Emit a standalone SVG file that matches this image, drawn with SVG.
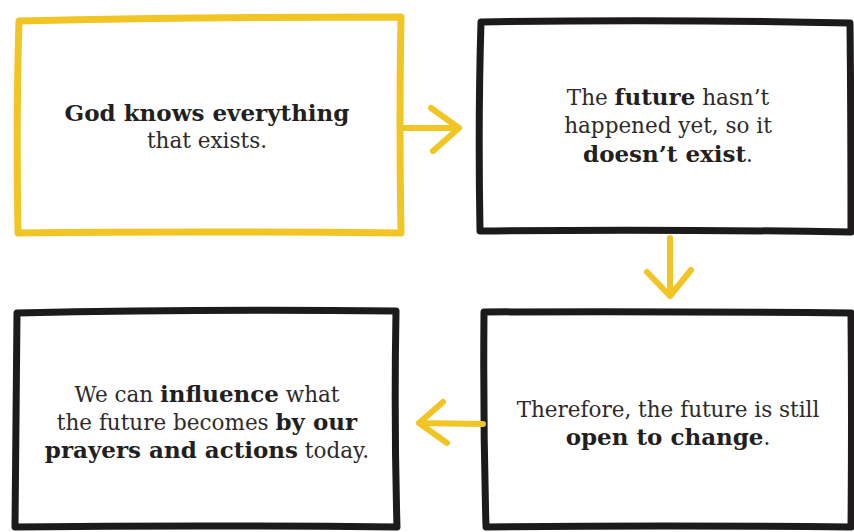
<svg xmlns="http://www.w3.org/2000/svg" width="854" height="532" viewBox="0 0 854 532">
<style>
.bx{fill:#fff;stroke-width:7;stroke-linejoin:round;stroke-linecap:round}
.blk{stroke:#1c1a1a}
.yel{stroke:#f1c524}
.ar{fill:none;stroke:#f1c524;stroke-width:6;stroke-linecap:round;stroke-linejoin:round}
text{font-family:"DejaVu Serif","Liberation Serif",serif;font-size:21.5px;fill:#2e2a2b;text-anchor:middle}
.b{font-weight:bold;font-size:23px;fill:#231f20}
</style>
<rect width="854" height="532" fill="#fff"/>
<g id="node-god">
<path class="bx yel" d="M19,21 Q200,17 401,17 Q399,120 401,233 Q200,231 18,233 Q16,120 19,21 Z"/>
<text x="207" y="121"><tspan class="b">God knows everything</tspan></text>
<text x="207" y="148">that exists.</text>
</g>
<g id="node-future">
<path class="bx blk" d="M481,22 Q660,19 850,23 Q851,120 851,232 Q660,229 480,231 Q478,120 481,22 Z"/>
<text x="668" y="105">The <tspan class="b">future</tspan> hasn’t</text>
<text x="668" y="133">happened yet, so it</text>
<text x="668" y="162"><tspan class="b">doesn’t exist</tspan>.</text>
</g>
<g id="node-open">
<path class="bx blk" d="M484,312 Q660,311 851,313 Q852,420 851,527 Q660,525 486,527 Q483,420 484,312 Z"/>
<text x="668" y="417">Therefore, the future is still</text>
<text x="668" y="445"><tspan class="b">open to change</tspan>.</text>
</g>
<g id="node-influence">
<path class="bx blk" d="M17,313 Q200,309 396,311 Q394,420 397,527 Q200,525 15,527 Q16,420 17,313 Z"/>
<text x="207" y="402">We can <tspan class="b">influence</tspan> what</text>
<text x="207" y="430">the future becomes <tspan class="b">by our</tspan></text>
<text x="207" y="458"><tspan class="b">prayers and actions</tspan> today.</text>
</g>
<g id="connectors">
<path class="ar" d="M404,128 L459,128 M431,108 L459,128 L433,151"/>
<path class="ar" d="M670,238 L670,296 M647,272 L670,296 L691,270"/>
<path class="ar" d="M483,424 L419,423 M443,402 L419,423 L447,443"/>
</g>
</svg>
